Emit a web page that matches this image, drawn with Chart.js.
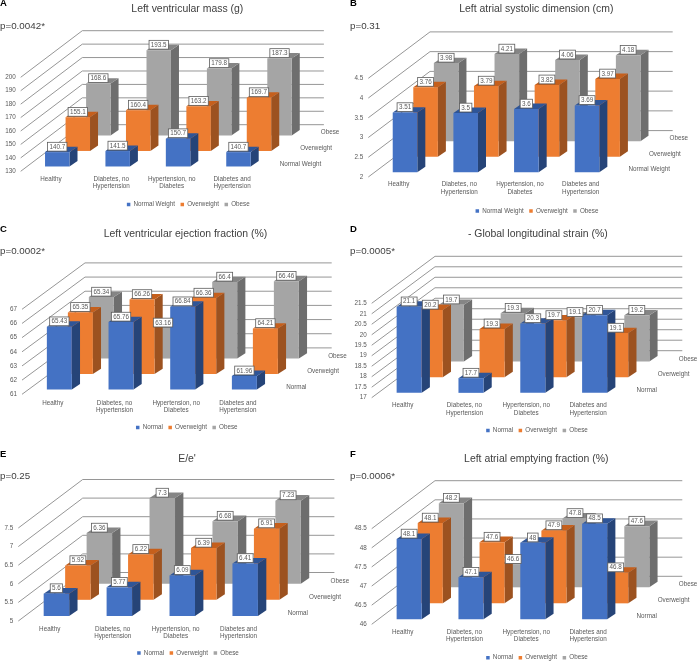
<!DOCTYPE html>
<html>
<head>
<meta charset="utf-8">
<title>Cardiac measures by weight group</title>
<script src="https://cdn.jsdelivr.net/npm/chart.js@4/dist/chart.umd.min.js"></script>
<style>
    html, body { margin: 0; padding: 0; background: #fff; }
    #page { position: relative; width: 697px; height: 664px; overflow: hidden; }
    canvas { position: absolute; }
</style>
</head>
<body>
<div id="page"></div>
<script>
const categories = ['Healthy', ['Diabetes, no', 'Hypertension'], ['Hypertension, no', 'Diabetes'], ['Diabetes and', 'Hypertension']];
const seriesWeight = ['Normal Weight', 'Overweight', 'Obese'];
const seriesShort = ['Normal', 'Overweight', 'Obese'];

const massNormal = [140.7, 141.5, 150.7, 140.7];
const massOver = [155.1, 160.4, 163.2, 169.7];
const massObese = [168.6, 193.5, 179.8, 187.3];

const atrialNormal = [3.51, 3.5, 3.6, 3.69];
const atrialOver = [3.76, 3.79, 3.82, 3.97];
const atrialObese = [3.98, 4.21, 4.06, 4.18];

const ejectionNormal = [65.43, 65.76, 66.84, 61.96];
const ejectionOver = [65.35, 66.26, 66.36, 64.21];
const ejectionObese = [65.34, 63.16, 66.4, 66.46];

const strainNormal = [21.1, 17.7, 20.3, 20.7];
const strainOver = [20.2, 19.3, 19.7, 19.1];
const strainObese = [19.7, 19.3, 19.1, 19.2];

const ratioNormal = [5.6, 5.77, 6.09, 6.41];
const ratioOver = [5.92, 6.22, 6.39, 6.91];
const ratioObese = [6.36, 7.3, 6.68, 7.23];

const emptyingNormal = [48.1, 47.1, 48, 48.5];
const emptyingOver = [48.1, 47.6, 47.9, 46.8];
const emptyingObese = [48.2, 46.6, 47.8, 47.6];

const FONT = '"Liberation Sans", Arial, sans-serif';
const TEXT = '#595959';
const WALL = '#969696';
const FRONT = ['#4472C4', '#ED7D31', '#A5A5A5'];
const TOP = ['#2F5597', '#C55F1C', '#858585'];
const SIDE = ['#264478', '#9C5220', '#6E6E6E'];

// left/top/right/bottom = front plane of the value axis, page pixels. depthX/depthY = wall offset.
const panels = [
    { letter: 'A', p: 'p=0.0042*', title: 'Left ventricular mass (g)', names: seriesWeight,
      values: [massNormal, massOver, massObese], min: 130, max: 200, step: 10,
      box: [0, 0, 360, 220], left: 20.7, top: 77.3, right: 262.3, bottom: 171.3, depthX: 61.6, depthY: 46.6,
      titleAt: [187.3, 9.3], pAt: [0, 26], letterAt: [0, 3], legendAt: [188.3, 206.7], tickPad: 4.3 },
    { letter: 'B', p: 'p=0.31', title: 'Left atrial systolic dimension (cm)', names: seriesWeight,
      values: [atrialNormal, atrialOver, atrialObese], min: 2, max: 4.5, step: 0.5,
      box: [345, 0, 352, 220], left: 368.3, top: 78.3, right: 611, bottom: 177, depthX: 61.7, depthY: 46.4,
      titleAt: [536.3, 9.3], pAt: [350, 26], letterAt: [350, 3], legendAt: [537, 213.3], tickPad: 4 },
    { letter: 'C', p: 'p=0.0002*', title: 'Left ventricular ejection fraction (%)', names: seriesShort,
      values: [ejectionNormal, ejectionOver, ejectionObese], min: 61, max: 67, step: 1,
      box: [0, 220, 360, 220], left: 22, top: 309.3, right: 268.7, bottom: 394.3, depthX: 63, depthY: 46.4,
      titleAt: [185.5, 234.3], pAt: [0, 251], letterAt: [0, 229], legendAt: [186.8, 429.7], tickPad: 5 },
    { letter: 'D', p: 'p=0.0005*', title: '- Global longitudinal strain (%)', names: seriesShort,
      values: [strainNormal, strainOver, strainObese], min: 17, max: 21.5, step: 0.5,
      box: [345, 220, 352, 220], left: 371.7, top: 303.3, right: 619, bottom: 397.7, depthX: 63.3, depthY: 47,
      titleAt: [537.8, 234.3], pAt: [350, 251], letterAt: [350, 229], legendAt: [537, 432.7], tickPad: 4.3 },
    { letter: 'E', p: 'p=0.25', title: "E/e'", names: seriesShort,
      values: [ratioNormal, ratioOver, ratioObese], min: 5, max: 7.5, step: 0.5,
      box: [0, 440, 360, 224], left: 18.3, top: 528, right: 270, bottom: 621, depthX: 64.4, depthY: 48.5,
      titleAt: [187, 459.3], pAt: [0, 476], letterAt: [0, 454], legendAt: [188, 655.3], tickPad: 4.3 },
    { letter: 'F', p: 'p=0.0006*', title: 'Left atrial emptying fraction (%)', names: seriesShort,
      values: [emptyingNormal, emptyingOver, emptyingObese], min: 46, max: 48.5, step: 0.5,
      box: [345, 440, 352, 224], left: 371.7, top: 528.7, right: 619, bottom: 624.3, depthX: 63.3, depthY: 48,
      titleAt: [536.3, 459.3], pAt: [350, 476], letterAt: [350, 454], legendAt: [537, 660], tickPad: 4.3 },
];

// how far a series sits back from the front plane
function seriesOffset(panel, i) {
    const slot = i + 0.31;
    return { x: slot * panel.depthX / 3, y: -slot * panel.depthY / 3 };
}

const bars3d = {
    id: 'bars3d',
    afterLayout(chart, args, opts) {
        const panel = opts.panel;
        const legend = chart.legend;
        const shift = panel.legendAt[0] - panel.box[0] - (legend.left + legend.right) / 2;
        legend.left += shift;
        legend.right += shift;
        const h = legend.height;
        legend.top = panel.legendAt[1] - panel.box[1] - h / 2;
        legend.bottom = legend.top + h;
        const title = chart.titleBlock;
        const titleShift = panel.titleAt[0] - panel.box[0] - (title.left + title.right) / 2;
        title.left += titleShift;
        title.right += titleShift;
    },
    beforeDatasetsDraw(chart, args, opts) {
        const panel = opts.panel;
        const { ctx, chartArea, scales } = chart;
        ctx.save();
        ctx.strokeStyle = WALL;
        ctx.lineWidth = 1;
        scales.y.ticks.forEach(tick => {
            const y = scales.y.getPixelForValue(tick.value);
            ctx.beginPath();
            ctx.moveTo(chartArea.left, y);
            ctx.lineTo(chartArea.left + panel.depthX, y - panel.depthY);
            ctx.lineTo(chartArea.right + panel.depthX, y - panel.depthY);
            ctx.stroke();
        });
        ctx.restore();
    },
    beforeDatasetDraw(chart, args, opts) {
        const panel = opts.panel;
        const { ctx } = chart;
        const off = seriesOffset(panel, args.index);
        const sideX = 0.39 * panel.depthX / 3;
        const sideY = 0.35 * panel.depthY / 3;
        ctx.save();
        ctx.translate(off.x, off.y);
        args.meta.data.forEach(bar => {
            const { x, y, base, width } = bar.getProps(['x', 'y', 'base', 'width'], true);
            const r = x + width / 2;
            const l = x - width / 2;
            ctx.fillStyle = SIDE[args.index];
            ctx.beginPath();
            ctx.moveTo(r, y);
            ctx.lineTo(r + sideX, y - sideY);
            ctx.lineTo(r + sideX, base - sideY);
            ctx.lineTo(r, base);
            ctx.closePath();
            ctx.fill();
            ctx.fillStyle = TOP[args.index];
            ctx.beginPath();
            ctx.moveTo(l, y);
            ctx.lineTo(l + sideX, y - sideY);
            ctx.lineTo(r + sideX, y - sideY);
            ctx.lineTo(r, y);
            ctx.closePath();
            ctx.fill();
        });
    },
    afterDatasetDraw(chart) {
        chart.ctx.restore();
    },
    afterDatasetsDraw(chart, args, opts) {
        const panel = opts.panel;
        const { ctx, chartArea } = chart;
        const ox = panel.box[0];
        const oy = panel.box[1];
        ctx.save();
        ctx.textBaseline = 'middle';

        // value boxes, back row first
        ctx.font = '6.3px ' + FONT;
        ctx.textAlign = 'center';
        for (let i = panel.values.length - 1; i >= 0; i--) {
            const off = seriesOffset(panel, i);
            chart.getDatasetMeta(i).data.forEach((bar, n) => {
                const text = String(panel.values[i][n]);
                const cx = bar.x + off.x;
                const cy = bar.y + off.y - 5.4;
                const w = ctx.measureText(text).width + 3.6;
                ctx.fillStyle = '#fff';
                ctx.strokeStyle = '#5c5c5c';
                ctx.lineWidth = 0.8;
                ctx.fillRect(cx - w / 2, cy - 4.4, w, 8.8);
                ctx.strokeRect(cx - w / 2, cy - 4.4, w, 8.8);
                ctx.fillStyle = TEXT;
                ctx.fillText(text, cx, cy + 0.3);
            });
        }

        // series names along the depth axis
        ctx.textAlign = 'left';
        ctx.fillStyle = TEXT;
        panel.names.forEach((name, i) => {
            const off = seriesOffset(panel, i);
            ctx.fillText(name, chartArea.right + off.x + 11, chartArea.bottom + off.y - 2.7);
        });

        ctx.fillStyle = '#404040';
        ctx.font = '9.8px ' + FONT;
        ctx.fillText(panel.p, panel.pAt[0] - ox, panel.pAt[1] - oy);
        ctx.fillStyle = '#000';
        ctx.font = 'bold 9.5px ' + FONT;
        ctx.fillText(panel.letter, panel.letterAt[0] - ox, panel.letterAt[1] - oy);
        ctx.restore();
    },
};

const page = document.getElementById('page');

panels.forEach(panel => {
    const [bx, by, bw, bh] = panel.box;
    const canvas = document.createElement('canvas');
    canvas.width = bw;
    canvas.height = bh;
    canvas.style.left = bx + 'px';
    canvas.style.top = by + 'px';
    page.appendChild(canvas);

    const titleSize = 10.45;
    const titleLine = titleSize * 1.2;
    const titleY = panel.titleAt[1] - by;

    new Chart(canvas.getContext('2d'), {
        type: 'bar',
        data: {
            labels: categories,
            datasets: panel.values.map((values, i) => ({
                label: panel.names[i],
                data: values,
                base: panel.min,
                backgroundColor: FRONT[i],
                borderWidth: 0,
                clip: false,
                grouped: false,
                barPercentage: 0.405,
                categoryPercentage: 1,
            })),
        },
        options: {
            responsive: false,
            animation: false,
            devicePixelRatio: 1,
            layout: { padding: { left: 0, top: 0, right: bw - (panel.right - bx), bottom: 0 } },
            scales: {
                x: {
                    offset: true,
                    grid: { display: false, drawTicks: false },
                    border: { display: false },
                    ticks: {
                        color: TEXT,
                        font: { family: FONT, size: 6.3, lineHeight: 1.17 },
                        padding: panel.tickPad,
                        maxRotation: 0,
                        autoSkip: false,
                    },
                    afterFit: s => { s.height = bh - s.chart.legend.height - (panel.bottom - by); },
                },
                y: {
                    min: panel.min,
                    max: panel.max,
                    grid: { display: false, drawTicks: false },
                    border: { display: false },
                    ticks: {
                        stepSize: panel.step,
                        autoSkip: false,
                        color: TEXT,
                        font: { family: FONT, size: 6.3 },
                        padding: 5,
                        callback: v => String(v),
                    },
                    afterFit: s => { s.width = panel.left - bx; },
                },
            },
            plugins: {
                bars3d: { panel },
                tooltip: { enabled: false },
                title: {
                    display: true,
                    text: panel.title,
                    color: '#404040',
                    font: { family: FONT, size: titleSize, weight: 'normal', lineHeight: 1.2 },
                    padding: { top: titleY - titleLine / 2, bottom: panel.top - by - titleY - titleLine / 2 },
                },
                legend: {
                    position: 'bottom',
                    labels: {
                        boxWidth: 3.5,
                        boxHeight: 3.5,
                        padding: 5.5,
                        color: TEXT,
                        font: { family: FONT, size: 6.3 },
                    },
                },
            },
        },
        plugins: [bars3d],
    });
});
</script>
</body>
</html>
